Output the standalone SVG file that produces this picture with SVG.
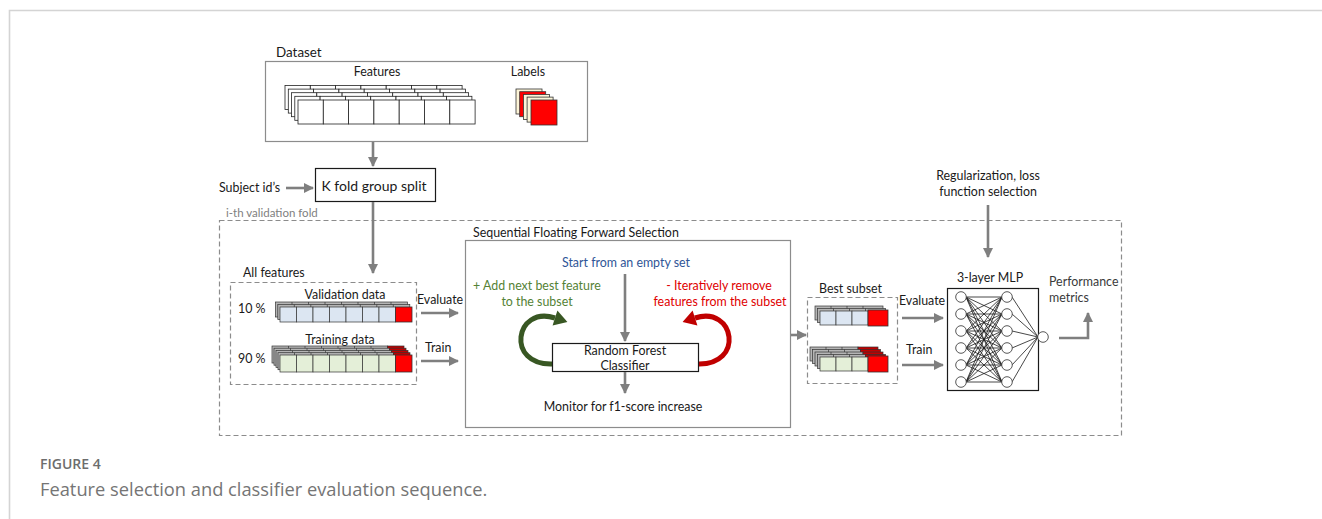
<svg xmlns="http://www.w3.org/2000/svg" xmlns:xlink="http://www.w3.org/1999/xlink" width="1322" height="519" viewBox="0 0 1322 519">
  <style>
    text { font-family: Lato, "Open Sans", "Liberation Sans", sans-serif; fill: #1a1a1a; }
    .t13 { font-size: 12.4px; }
    .t14 { font-size: 13.4px; }
    .t15 { font-size: 14px; }
    .box { fill: #ffffff; stroke: #8c8c8c; stroke-width: 1.2; }
    .solid { fill: #ffffff; stroke: #1a1a1a; stroke-width: 1.2; }
    .dash { fill: none; stroke: #8c8c8c; stroke-width: 1.2; stroke-dasharray: 5 3; }
    .arr { fill: none; stroke: #7f7f7f; stroke-width: 2.6; marker-end: url(#ah); }
    .cell { fill: #ffffff; stroke: #222; stroke-width: 0.8; }
    .blue { fill: #dce6f2; stroke: #333; stroke-width: 0.7; }
    .green { fill: #e4efd8; stroke: #333; stroke-width: 0.7; }
    .back { fill: #b5b5b5; stroke: #333; stroke-width: 0.7; }
    .red { fill: #ff0000; stroke: #333; stroke-width: 0.8; }
    .darkred { fill: #c00000; stroke: #333; stroke-width: 0.7; }
    .cream { fill: #fdf5d8; stroke: #333; stroke-width: 0.8; }
    .neuron { fill: #ffffff; stroke: #444; stroke-width: 0.9; }
  </style>
  <defs>
    <marker id="ah" markerUnits="userSpaceOnUse" markerWidth="10" markerHeight="10" refX="9" refY="5" orient="auto">
      <path d="M0,0 L10,5 L0,10 z" fill="#7f7f7f"/>
    </marker>
    <!-- one row of the feature matrix -->
    <g id="frow">
      <rect class="cell" x="0" y="0" width="25.3" height="24"/>
      <rect class="cell" x="25.3" y="0" width="25.3" height="24"/>
      <rect class="cell" x="50.6" y="0" width="25.3" height="24"/>
      <rect class="cell" x="75.9" y="0" width="25.3" height="24"/>
      <rect class="cell" x="101.2" y="0" width="25.3" height="24"/>
      <rect class="cell" x="126.5" y="0" width="25.3" height="24"/>
      <rect class="cell" x="151.8" y="0" width="25.3" height="24"/>
    </g>
    <!-- full-width data rows: 7 feature cells + label cell -->
    <g id="vrow">
      <rect class="blue" x="0" y="0" width="16.5" height="15"/>
      <rect class="blue" x="16.5" y="0" width="16.5" height="15"/>
      <rect class="blue" x="33" y="0" width="16.5" height="15"/>
      <rect class="blue" x="49.5" y="0" width="16.5" height="15"/>
      <rect class="blue" x="66" y="0" width="16.5" height="15"/>
      <rect class="blue" x="82.5" y="0" width="16.5" height="15"/>
      <rect class="blue" x="99" y="0" width="16.5" height="15"/>
      <rect class="red" x="115.5" y="0" width="16.5" height="15"/>
    </g>
    <g id="vback">
      <rect class="back" x="0" y="0" width="132" height="15"/>
      <path d="M16.5,0 v15 M33,0 v15 M49.5,0 v15 M66,0 v15 M82.5,0 v15 M99,0 v15 M115.5,0 v15" stroke="#333" stroke-width="0.7"/>
    </g>
    <g id="trow">
      <rect class="green" x="0" y="0" width="16.5" height="17"/>
      <rect class="green" x="16.5" y="0" width="16.5" height="17"/>
      <rect class="green" x="33" y="0" width="16.5" height="17"/>
      <rect class="green" x="49.5" y="0" width="16.5" height="17"/>
      <rect class="green" x="66" y="0" width="16.5" height="17"/>
      <rect class="green" x="82.5" y="0" width="16.5" height="17"/>
      <rect class="green" x="99" y="0" width="16.5" height="17"/>
      <rect class="red" x="115.5" y="0" width="16.5" height="17"/>
    </g>
    <g id="tback">
      <rect class="back" x="0" y="0" width="115.5" height="17"/>
      <rect class="darkred" x="115.5" y="0" width="16.5" height="17"/>
      <path d="M16.5,0 v17 M33,0 v17 M49.5,0 v17 M66,0 v17 M82.5,0 v17 M99,0 v17" stroke="#333" stroke-width="0.7"/>
    </g>
    <!-- reduced rows: 3 feature cells + label cell -->
    <g id="bvrow">
      <rect class="blue" x="0" y="0" width="16" height="14"/>
      <rect class="blue" x="16" y="0" width="16" height="14"/>
      <rect class="blue" x="32" y="0" width="16" height="14"/>
      <rect class="red" x="48" y="-1" width="20" height="16"/>
    </g>
    <g id="bvback">
      <rect class="back" x="0" y="0" width="68" height="14"/>
      <path d="M16,0 v14 M32,0 v14 M48,0 v14" stroke="#333" stroke-width="0.7"/>
    </g>
    <g id="btrow">
      <rect class="green" x="0" y="0" width="16" height="14"/>
      <rect class="green" x="16" y="0" width="16" height="14"/>
      <rect class="green" x="32" y="0" width="16" height="14"/>
      <rect class="red" x="48" y="-1" width="20" height="16"/>
    </g>
    <g id="btback">
      <rect class="back" x="0" y="0" width="48" height="14"/>
      <rect class="darkred" x="48" y="0" width="20" height="14"/>
      <path d="M16,0 v14 M32,0 v14" stroke="#333" stroke-width="0.7"/>
    </g>
  </defs>

  <rect x="0" y="0" width="1322" height="519" fill="#ffffff"/>
  <!-- page frame -->
  <path d="M9.5,519 V10.5 H1322" fill="none" stroke="#d4d4d4" stroke-width="1.6"/>

  <!-- Dataset -->
  <g id="dataset">
    <text class="t14" x="276" y="57">Dataset</text>
    <rect class="box" x="265.5" y="61.5" width="322" height="80"/>
    <text class="t13" x="377" y="76" text-anchor="middle">Features</text>
    <text class="t13" x="528" y="76" text-anchor="middle">Labels</text>
    <use href="#frow" x="285" y="85.5"/>
    <use href="#frow" x="288.3" y="89.1"/>
    <use href="#frow" x="291.5" y="92.7"/>
    <use href="#frow" x="294.8" y="96.3"/>
    <use href="#frow" x="298" y="100"/>
    <rect class="cream" x="516" y="89" width="26" height="25"/>
    <rect class="red" x="519.7" y="91.7" width="26" height="25"/>
    <rect class="cream" x="523.4" y="94.4" width="26" height="25"/>
    <rect class="cream" x="527.1" y="97.1" width="26" height="25"/>
    <rect class="red" x="531" y="100" width="26" height="25"/>
  </g>

  <!-- K fold group split -->
  <g id="kfold">
    <rect class="solid" x="315.5" y="168.5" width="120" height="33"/>
    <text class="t15" x="374" y="191" text-anchor="middle">K fold group split</text>
  </g>
  <g id="subject">
    <text class="t13" x="219" y="192">Subject id’s</text>
  </g>

  <!-- validation fold -->
  <g id="fold">
    <text x="226" y="217" font-size="11.5" style="fill:#808080">i-th validation fold</text>
    <rect class="dash" x="219.5" y="220.5" width="902" height="215"/>
  </g>

  <!-- All features -->
  <g id="allfeatures">
    <text class="t13" x="243" y="277">All features</text>
    <rect class="dash" x="230.5" y="282.5" width="186" height="102"/>
    <text class="t13" x="345" y="299" text-anchor="middle">Validation data</text>
    <text class="t13" x="238" y="313">10 %</text>
    <use href="#vback" x="275.5" y="302"/>
    <use href="#vback" x="277.8" y="304.5"/>
    <use href="#vrow" x="280" y="307"/>
    <text class="t13" x="340" y="344" text-anchor="middle">Training data</text>
    <text class="t13" x="238" y="363">90 %</text>
    <use href="#tback" x="272" y="346"/>
    <use href="#tback" x="274" y="348.2"/>
    <use href="#tback" x="276" y="350.5"/>
    <use href="#tback" x="278" y="352.7"/>
    <use href="#trow" x="280" y="355"/>
  </g>

  <!-- SFFS -->
  <g id="sffs">
    <text class="t13" x="473" y="237">Sequential Floating Forward Selection</text>
    <rect class="box" x="465.5" y="240.5" width="325" height="187"/>
    <text class="t13" x="626" y="267" text-anchor="middle" style="fill:#2f5597">Start from an empty set</text>
    <text class="t13" x="473" y="290" style="fill:#548235">+ Add next best feature</text>
    <text class="t13" x="537" y="306" text-anchor="middle" style="fill:#548235">to the subset</text>
    <text class="t13" x="719" y="290" text-anchor="middle" style="fill:#e00000">- Iteratively remove</text>
    <text class="t13" x="720" y="306" text-anchor="middle" style="fill:#e00000">features from the subset</text>
    <text class="t13" x="623" y="411" text-anchor="middle">Monitor for f1-score increase</text>
    <path d="M553,364 C505,366 515,305 555,318" fill="none" stroke="#385723" stroke-width="5"/>
    <polygon points="567.4,321.9 552.6,325.6 557.4,310.4" fill="#385723"/>
    <path d="M697,364 C745,366 735,305 695,318" fill="none" stroke="#c00000" stroke-width="5"/>
    <polygon points="682.6,321.9 697.4,325.6 692.6,310.4" fill="#c00000"/>
  </g>
  <g id="rf">
    <rect class="solid" x="552.5" y="343.5" width="146" height="28"/>
    <text class="t13" x="625" y="355" text-anchor="middle">Random Forest</text>
    <text class="t13" x="625" y="370" text-anchor="middle">Classifier</text>
  </g>

  <!-- Best subset -->
  <g id="bestsubset">
    <text class="t13" x="819" y="293">Best subset</text>
    <rect class="dash" x="807.5" y="297.5" width="90" height="86"/>
    <use href="#bvback" x="815" y="306"/>
    <use href="#bvback" x="817.5" y="308.5"/>
    <use href="#bvrow" x="820" y="311"/>
    <use href="#btback" x="810" y="347"/>
    <use href="#btback" x="812.5" y="349.5"/>
    <use href="#btback" x="815" y="352"/>
    <use href="#btback" x="817.5" y="354.5"/>
    <use href="#btrow" x="820" y="357"/>
  </g>

  <!-- MLP -->
  <g id="regularization">
    <text class="t13" x="988" y="180" text-anchor="middle">Regularization, loss</text>
    <text class="t13" x="988" y="196" text-anchor="middle">function selection</text>
  </g>
  <g id="mlp">
    <text class="t13" x="990" y="282" text-anchor="middle">3-layer MLP</text>
    <rect class="solid" x="947.5" y="288.5" width="91" height="102"/>
    <path d="M966,297 L1002,297 M966,297 L1002,314 M966,297 L1002,331 M966,297 L1002,348 M966,297 L1002,365 M966,297 L1002,382
             M966,314 L1002,297 M966,314 L1002,314 M966,314 L1002,331 M966,314 L1002,348 M966,314 L1002,365 M966,314 L1002,382
             M966,331 L1002,297 M966,331 L1002,314 M966,331 L1002,331 M966,331 L1002,348 M966,331 L1002,365 M966,331 L1002,382
             M966,348 L1002,297 M966,348 L1002,314 M966,348 L1002,331 M966,348 L1002,348 M966,348 L1002,365 M966,348 L1002,382
             M966,365 L1002,297 M966,365 L1002,314 M966,365 L1002,331 M966,365 L1002,348 M966,365 L1002,365 M966,365 L1002,382
             M966,382 L1002,297 M966,382 L1002,314 M966,382 L1002,331 M966,382 L1002,348 M966,382 L1002,365 M966,382 L1002,382
             M1012,297 L1038,337 M1012,314 L1038,337 M1012,331 L1038,337 M1012,348 L1038,337 M1012,365 L1038,337 M1012,382 L1038,337"
          stroke="#1a1a1a" stroke-width="0.8" fill="none"/>
    <circle class="neuron" cx="961" cy="297" r="5.3"/>
    <circle class="neuron" cx="961" cy="314" r="5.3"/>
    <circle class="neuron" cx="961" cy="331" r="5.3"/>
    <circle class="neuron" cx="961" cy="348" r="5.3"/>
    <circle class="neuron" cx="961" cy="365" r="5.3"/>
    <circle class="neuron" cx="961" cy="382" r="5.3"/>
    <circle class="neuron" cx="1007" cy="297" r="5.3"/>
    <circle class="neuron" cx="1007" cy="314" r="5.3"/>
    <circle class="neuron" cx="1007" cy="331" r="5.3"/>
    <circle class="neuron" cx="1007" cy="348" r="5.3"/>
    <circle class="neuron" cx="1007" cy="365" r="5.3"/>
    <circle class="neuron" cx="1007" cy="382" r="5.3"/>
    <circle class="neuron" cx="1043" cy="337" r="5.3"/>
  </g>
  <g id="performance">
    <text class="t13" x="1049" y="286" style="fill:#3a3a3a">Performance</text>
    <text class="t13" x="1049" y="302" style="fill:#3a3a3a">metrics</text>
  </g>

  <!-- connectors -->
  <g id="connectors">
    <path class="arr" d="M373,142 V166"/>
    <path class="arr" d="M286,188 H313"/>
    <path class="arr" d="M373,202 V273"/>
    <text class="t13" x="417" y="304">Evaluate</text>
    <path class="arr" d="M421,313 H458"/>
    <text class="t13" x="425" y="352">Train</text>
    <path class="arr" d="M421,361 H458"/>
    <path class="arr" d="M625,274 V341"/>
    <path class="arr" d="M625,372 V393"/>
    <path class="arr" d="M791,335 H806"/>
    <text class="t13" x="899" y="305">Evaluate</text>
    <path class="arr" d="M902,318 H943"/>
    <text class="t13" x="906" y="354">Train</text>
    <path class="arr" d="M902,365 H943"/>
    <path class="arr" d="M988,205 V257"/>
    <path class="arr" d="M1059,338 H1088 V313"/>
  </g>

  <!-- caption -->
  <g id="caption">
    <text x="40" y="469" font-size="14" font-weight="600" style="fill:#6d6d6d; font-family: 'Open Sans', 'Noto Sans', sans-serif">FIGURE 4</text>
    <text x="40" y="496" font-size="18.3" style="fill:#757575; font-family: 'Open Sans', 'Noto Sans', sans-serif">Feature selection and classifier evaluation sequence.</text>
  </g>
</svg>
